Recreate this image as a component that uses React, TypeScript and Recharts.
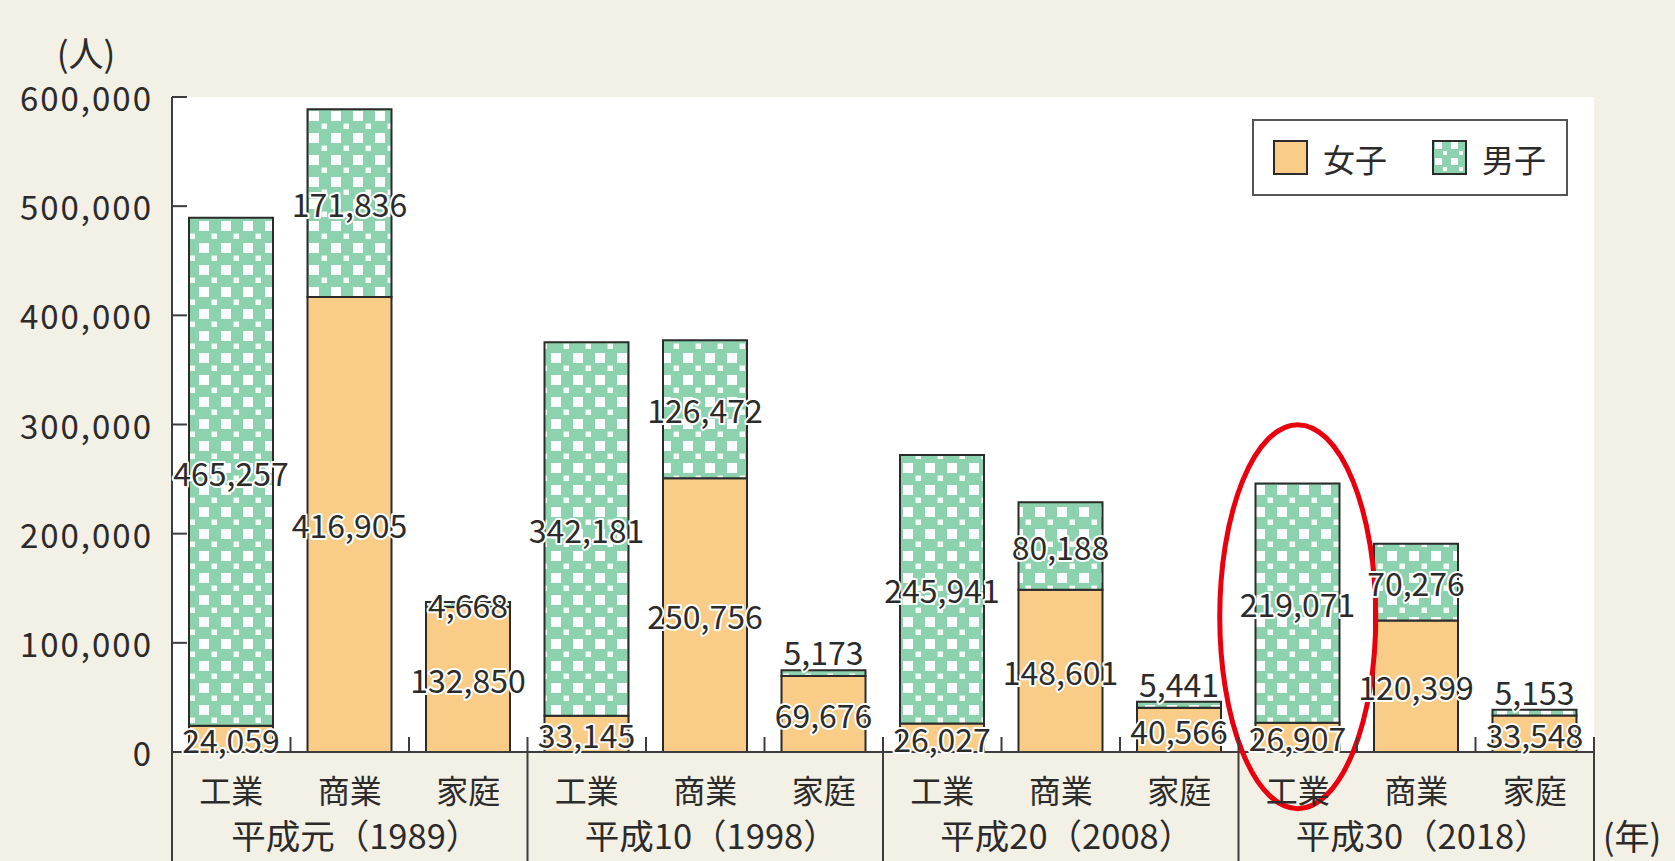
import React from 'react';
import { BarChart, Bar, XAxis, YAxis, LabelList, Legend, ReferenceDot, CartesianGrid } from 'recharts';

// ---- data ----
const industries = ['工業', '商業', '家庭'];
const periods = ['平成元（1989）', '平成10（1998）', '平成20（2008）', '平成30（2018）'];
const femaleValues = [24059, 416905, 132850, 33145, 250756, 69676, 26027, 148601, 40566, 26907, 120399, 33548];
const maleValues = [465257, 171836, 4668, 342181, 126472, 5173, 245941, 80188, 5441, 219071, 70276, 5153];
const yTicks = [0, 100000, 200000, 300000, 400000, 500000, 600000];
const seriesNames = { female: '女子', male: '男子' };
const yUnit = '(人)';
const xUnit = '(年)';
const highlightIndex = 9;
const highlightCenterValue = 124000;

const data = periods.flatMap((p, gi) =>
  industries.map((ind, ci) => ({
    key: `${gi}-${ci}`,
    period: p,
    industry: ind,
    female: femaleValues[gi * 3 + ci],
    male: maleValues[gi * 3 + ci],
  }))
);

// ---- layout ----
const W = 1675;
const H = 861;
const YAXIS_W = 172;
const XAXIS_H = 109;
const MARGIN = { top: 97, right: 81, bottom: 0, left: 0 };
const PLOT_LEFT = MARGIN.left + YAXIS_W;
const PLOT_RIGHT = W - MARGIN.right;
const BASELINE = H - MARGIN.bottom - XAXIS_H;
const BAND = (PLOT_RIGHT - PLOT_LEFT) / data.length;

const FONT = '"Noto Sans CJK JP", "Noto Sans", sans-serif';
const INK = '#2b2b2b';
const LINE = '#3d3d3d';
const ORANGE = '#f9cc87';
const GREEN = '#8dd2ae';
const BG = '#f3f0e6';

const fmt = (v: number) => v.toLocaleString('en-US');

const YTick = (props: any) => {
  const { x, y, payload } = props;
  return (
    <g>
      <text x={x} y={y} textAnchor="end" dominantBaseline="central" fontFamily={FONT} fontSize={33} letterSpacing={2} fill={INK}>
        {fmt(payload.value)}
      </text>
      <line x1={PLOT_LEFT} x2={PLOT_LEFT + 15} y1={y} y2={y} stroke={LINE} strokeWidth={2} />
      {payload.value === yTicks[yTicks.length - 1] && (
        <text x={86} y={51} textAnchor="middle" dominantBaseline="central" fontFamily={FONT} fontSize={35} fill={INK}>
          {yUnit}
        </text>
      )}
    </g>
  );
};

const XTick = (props: any) => {
  const { x, payload } = props;
  const i: number = payload.index ?? props.index;
  const d = data[i];
  if (!d) return null;
  const left = x - BAND / 2;
  const right = x + BAND / 2;
  const ci = i % industries.length;
  const last = i === data.length - 1;
  return (
    <g>
      <text x={x} y={BASELINE + 37} textAnchor="middle" dominantBaseline="central" fontFamily={FONT} fontSize={32} fill={INK}>
        {d.industry}
      </text>
      {ci === 1 && (
        <text x={x + 6} y={BASELINE + 82} textAnchor="middle" dominantBaseline="central" fontFamily={FONT} fontSize={34.5} fill={INK}>
          {d.period}
        </text>
      )}
      {ci === 0 ? (
        <line x1={left} x2={left} y1={BASELINE - 15} y2={H} stroke={LINE} strokeWidth={2} />
      ) : (
        <line x1={left} x2={left} y1={BASELINE - 15} y2={BASELINE} stroke={LINE} strokeWidth={2} />
      )}
      {last && (
        <>
          <line x1={right} x2={right} y1={BASELINE - 15} y2={H} stroke={LINE} strokeWidth={2} />
          <text x={right + 38} y={BASELINE + 82} textAnchor="middle" dominantBaseline="central" fontFamily={FONT} fontSize={35} fill={INK}>
            {xUnit}
          </text>
        </>
      )}
    </g>
  );
};

const labelText = (cx: number, cy: number, value: number) => (
  <text
    x={cx}
    y={cy}
    textAnchor="middle"
    dominantBaseline="central"
    fontFamily={FONT}
    fontSize={32}
    fill={INK}
    stroke="#fff"
    strokeWidth={4}
    strokeLinejoin="round"
    paintOrder="stroke"
  >
    {fmt(value)}
  </text>
);

const femaleLabel = (props: any) => {
  const vb = props.viewBox || props;
  const x = props.x ?? vb.x;
  const y = props.y ?? vb.y;
  const width = props.width ?? vb.width;
  const height = props.height ?? vb.height;
  return labelText(x + width / 2, y + height / 2, props.value);
};

const maleLabel = (props: any) => {
  const vb = props.viewBox || props;
  const x = props.x ?? vb.x;
  const y = props.y ?? vb.y;
  const width = props.width ?? vb.width;
  const height = Math.abs(props.height ?? vb.height);
  const idx = props.index;
  const top = Math.min(y, y + (props.height ?? vb.height));
  const above = height < 20 && femaleValues[idx] < 100000;
  const cy = above ? top - 19 : top + height / 2;
  return labelText(x + width / 2, cy, props.value);
};

const LegendContent = (props: any) => {
  const payload = props.payload || [];
  return (
    <div
      style={{
        boxSizing: 'border-box',
        width: 316,
        height: 77,
        border: '2px solid #555',
        background: '#fff',
        display: 'flex',
        alignItems: 'center',
        paddingLeft: 19,
        fontFamily: FONT,
        fontSize: 32,
        color: INK,
      }}
    >
      {payload.map((p: any, i: number) => (
        <div key={i} style={{ display: 'flex', alignItems: 'center', marginRight: i === 0 ? 45 : 0 }}>
          <svg width={36} height={36} style={{ marginRight: 14, display: 'block' }}>
            <defs>
              <pattern id="legendChecker" patternUnits="userSpaceOnUse" width="16" height="16">
                <rect width="16" height="16" fill={GREEN} />
                <rect x="3" y="2" width="7" height="7" fill="#fff" />
                <rect x="11" y="11" width="4" height="4" fill="#fff" />
              </pattern>
            </defs>
            <rect
              x={1}
              y={1}
              width={33}
              height={33}
              fill={p.dataKey === 'male' ? 'url(#legendChecker)' : ORANGE}
              stroke={INK}
              strokeWidth={2}
            />
          </svg>
          <span>{p.value}</span>
        </div>
      ))}
    </div>
  );
};

const Ellipse = (props: any) => {
  const { cx, cy } = props;
  if (cx == null || cy == null) return null;
  return <ellipse cx={cx} cy={cy} rx={78} ry={192} fill="none" stroke="#e8000e" strokeWidth={5} />;
};

export default function App() {
  return (
    <div style={{ position: 'absolute', left: 0, top: 0, width: W, height: H, background: BG, overflow: 'hidden' }}>
      <BarChart width={W} height={H} data={data} margin={MARGIN}>
        <defs>
          <pattern id="checker" patternUnits="userSpaceOnUse" width="22" height="22">
            <rect width="22" height="22" fill={GREEN} />
            <rect x="1" y="1" width="10" height="10" fill="#fbfefc" />
            <rect x="13.5" y="13.5" width="5.5" height="5.5" fill="#f4fbf7" />
          </pattern>
        </defs>
        <CartesianGrid horizontal={false} vertical={false} fill="#fff" />
        <XAxis
          dataKey="key"
          height={XAXIS_H}
          tickLine={false}
          tickSize={0}
          tickMargin={0}
          interval={0}
          axisLine={{ stroke: LINE, strokeWidth: 2 }}
          tick={<XTick />}
        />
        <XAxis xAxisId="top" dataKey="key" orientation="top" height={0} tick={false} tickLine={false} axisLine={{ stroke: LINE, strokeWidth: 2 }} />
        <YAxis
          width={YAXIS_W}
          domain={[0, 600000]}
          ticks={yTicks}
          interval={0}
          tickLine={false}
          tickSize={0}
          tickMargin={19}
          axisLine={{ stroke: LINE, strokeWidth: 2 }}
          tick={<YTick />}
        />
        <YAxis yAxisId="right" orientation="right" width={0} domain={[0, 600000]} tick={false} tickLine={false} axisLine={{ stroke: LINE, strokeWidth: 2 }} />
        <Legend
          layout="horizontal"
          verticalAlign="middle"
          align="center"
          wrapperStyle={{ left: 1252, top: 119, width: 316, height: 77 }}
          content={<LegendContent />}
        />
        <Bar dataKey="female" name={seriesNames.female} stackId="a" fill={ORANGE} stroke={INK} strokeWidth={2} barSize={84} isAnimationActive={false}>
          <LabelList dataKey="female" content={femaleLabel} />
        </Bar>
        <Bar dataKey="male" name={seriesNames.male} stackId="a" fill="url(#checker)" stroke={INK} strokeWidth={2} barSize={84} isAnimationActive={false}>
          <LabelList dataKey="male" content={maleLabel} />
        </Bar>
        <ReferenceDot x={data[highlightIndex].key} y={highlightCenterValue} r={1} shape={<Ellipse />} ifOverflow="visible" />
      </BarChart>
    </div>
  );
}
